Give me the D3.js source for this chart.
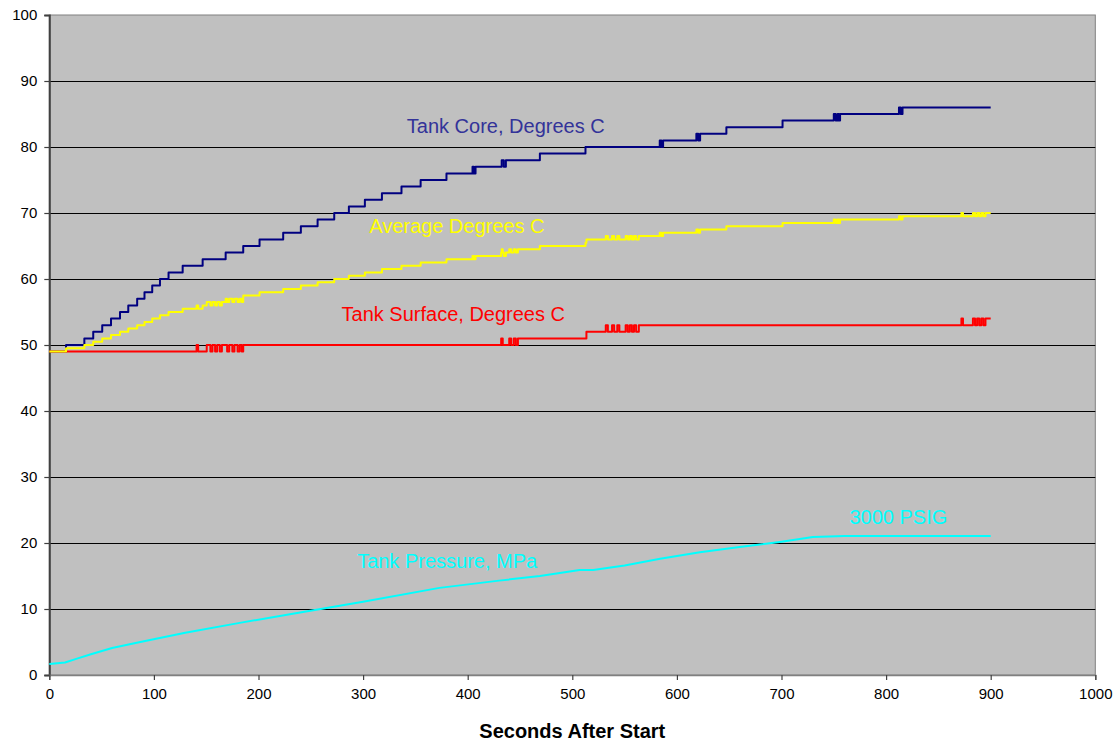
<!DOCTYPE html>
<html>
<head>
<meta charset="utf-8">
<script src="https://cdn.jsdelivr.net/npm/d3@7/dist/d3.min.js"></script>
<style>
  html, body { margin: 0; padding: 0; background: #ffffff; }
  svg { display: block; font-family: "Liberation Sans", Arial, sans-serif; }
</style>
</head>
<body>
<svg id="chart" width="1120" height="742"></svg>
<script>
// ---------- data ----------
const xTickValues = [0, 100, 200, 300, 400, 500, 600, 700, 800, 900, 1000];
const yTickValues = [0, 10, 20, 30, 40, 50, 60, 70, 80, 90, 100];

// Tank core temperature, step breakpoints [seconds, degrees C]
const coreSteps = [
  [0,49],[16,50],[33.5,51],[42,52],[50.6,53],[59,54],[67.6,55],[75.5,56],[84,57],[91,58],
  [98.4,59],[105.8,60],[114,61],[127.5,62],[146.6,63],[168.6,64],[185.4,65],[201,66],
  [223.6,67],[240.5,68],[256.5,69],[272.4,70],[286.4,71],[301.7,72],[318,73],[336.7,74],
  [355,75],[379.7,76],
  [404.6,77],[406,76],[407.5,77],
  [432.5,78],[434.5,77],[436.5,78],
  [469,79],[512.6,80],
  [583.6,81],[585.2,80],[586.8,81],
  [618.6,82],[620.4,81],[622.2,82],
  [647.3,83],[701,84],
  [750,85],[751.8,84],[753.6,85],[755,84],[756,85],
  [812.3,86],[814,85],[815.7,86],
  [900,86]
];

// Tank surface temperature, step breakpoints [seconds, degrees C]
const surfaceSteps = [
  [0,49],[140.8,50],[142.3,49],
  [150.5,50],[154,49],[156,50],[158.5,49],[160.5,50],[163,49],[165,50],[170,49],
  [172,50],[175,49],[177,50],[180,49],[182,50],[184,49],[185.4,50],
  [432,51],[433.5,50],
  [439.7,51],[441.5,50],[444,51],[446,50],[448,51],
  [513.5,52],
  [532,53],[534,52],[538,53],[540,52],[543,53],[545,52],[551,53],[553,52],
  [555,53],[557,52],[559,53],[561,52],[563.6,53],
  [872,54],[873.5,53],
  [883,54],[885,53],[887,54],[889,53],[891,54],[893,53],[895,54],
  [900,54]
];

// Average temperature, step breakpoints [seconds, degrees C]
const averageSteps = [
  [0,49],[16,49.5],[33.5,50],[42,50.5],[50.6,51],[59,51.5],[67.6,52],[75.5,52.5],[84,53],
  [91,53.5],[98.4,54],[105.8,54.5],[114,55],[127.5,55.5],[140.8,56],[142.3,55.5],[146.6,56],
  [150.5,56.5],[154,56],[156,56.5],[158.5,56],[160.5,56.5],[163,56],[165,56.5],[168.6,57],
  [170,56.5],[172,57],[175,56.5],[177,57],[180,56.5],[182,57],[184,56.5],[185.4,57.5],
  [201,58],[223.6,58.5],[240.5,59],[256.5,59.5],[272.4,60],[286.4,60.5],[301.7,61],
  [318,61.5],[336.7,62],[355,62.5],[379.7,63],
  [404.6,63.5],[406,63],[407.5,63.5],
  [432,64],[432.5,64.5],[433.5,64],[434.5,63.5],[436.5,64],
  [439.7,64.5],[441.5,64],[444,64.5],[446,64],[448,64.5],
  [469,65],[512.6,65.5],[513.5,66],
  [532,66.5],[534,66],[538,66.5],[540,66],[543,66.5],[545,66],[551,66.5],[553,66],
  [555,66.5],[557,66],[559,66.5],[561,66],[563.6,66.5],
  [583.6,67],[585.2,66.5],[586.8,67],
  [618.6,67.5],[620.4,67],[622.2,67.5],
  [647.3,68],[701,68.5],
  [750,69],[751.8,68.5],[753.6,69],[755,68.5],[756,69],
  [812.3,69.5],[814,69],[815.7,69.5],
  [872,70],[873.5,69.5],
  [883,70],[885,69.5],[887,70],[889,69.5],[891,70],[893,69.5],[895,70],
  [900,70]
];

// Tank pressure, MPa [seconds, MPa]
const pressurePoints = [
  [0,1.67],[15,1.9],[25,2.4],[39,3.1],[60,4.1],[87,5.0],[130,6.4],[182,7.9],[230,9.2],
  [258,9.95],[300,11.1],[373,13.2],[430,14.3],[469,15.0],[507,15.9],[520,15.9],
  [550,16.6],[584,17.6],[622,18.6],[660,19.4],[700,20.2],[730,20.9],[760,21.05],[900,21.05]
];

// annotation labels [text, seconds, value, colour]
const labelTexts  = ["Tank Core, Degrees C", "Average Degrees C", "Tank Surface, Degrees C", "Tank Pressure, MPa", "3000 PSIG"];
const labelTimes  = [341.8, 305.8, 279.4, 294.3, 765];
const labelValues = [82.1, 66.9, 53.7, 16.26, 22.9];
const labelColors = ["#333399", "#FFFF00", "#FF0000", "#00FFFF", "#00FFFF"];

const xTitle = "Seconds After Start";

// ---------- drawing ----------
const svg = d3.select("#chart");
const margin = { left: 49.3, right: 24.7, top: 15, bottom: 67 };
const W = 1120, H = 742;
const pw = W - margin.left - margin.right;
const ph = H - margin.top - margin.bottom;

const x = d3.scaleLinear().domain([0, 1000]).range([margin.left, margin.left + pw]);
const y = d3.scaleLinear().domain([0, 100]).range([margin.top + ph, margin.top]);

// plot area
svg.append("rect")
  .attr("x", x(0)).attr("y", y(100))
  .attr("width", x(1000) - x(0)).attr("height", y(0) - y(100))
  .attr("fill", "#C0C0C0").attr("stroke", "#808080").attr("stroke-width", 1);

// gridlines
svg.append("g").selectAll("line")
  .data(yTickValues.filter(v => v > 0 && v < 100))
  .join("line")
  .attr("x1", x(0)).attr("x2", x(1000))
  .attr("y1", d => Math.round(y(d)) + 0.5).attr("y2", d => Math.round(y(d)) + 0.5)
  .attr("stroke", "#000000").attr("stroke-width", 1);

// axes
const yAxis = d3.axisLeft(y).tickValues(yTickValues).tickSize(5).tickPadding(7).tickFormat(d3.format("d"));
const xAxis = d3.axisBottom(x).tickValues(xTickValues).tickSize(5).tickPadding(8).tickFormat(d3.format("d"));

const gy = svg.append("g").attr("transform", `translate(${x(0)},0)`).call(yAxis);
gy.select(".domain").attr("stroke", "#404040").attr("stroke-width", 2);
gy.selectAll(".tick line").attr("stroke", "#404040").attr("stroke-width", 1.2);
gy.selectAll(".tick text").attr("font-size", 15).attr("fill", "#000")
  .attr("font-family", "'Liberation Sans', Arial, sans-serif");

const gx = svg.append("g").attr("transform", `translate(0,${y(0)})`).call(xAxis);
gx.select(".domain").attr("stroke", "#808080").attr("stroke-width", 1.5);
gx.selectAll(".tick line").attr("stroke", "#404040").attr("stroke-width", 1.2);
gx.selectAll(".tick text").attr("font-size", 15).attr("fill", "#000")
  .attr("font-family", "'Liberation Sans', Arial, sans-serif");

// series
const stepLine = d3.line().x(d => x(d[0])).y(d => y(d[1])).curve(d3.curveStepAfter);
const plainLine = d3.line().x(d => x(d[0])).y(d => y(d[1])).curve(d3.curveLinear);

const series = [
  { data: coreSteps, color: "#000080", gen: stepLine },
  { data: surfaceSteps, color: "#FF0000", gen: stepLine },
  { data: averageSteps, color: "#FFFF00", gen: stepLine },
  { data: pressurePoints, color: "#00FFFF", gen: plainLine }
];
svg.append("g").selectAll("path")
  .data(series)
  .join("path")
  .attr("d", s => s.gen(s.data))
  .attr("fill", "none")
  .attr("stroke", s => s.color)
  .attr("stroke-width", 2)
  .attr("stroke-linejoin", "round");

// labels
svg.append("g").selectAll("text")
  .data(labelTexts)
  .join("text")
  .attr("x", (d, i) => x(labelTimes[i]))
  .attr("y", (d, i) => y(labelValues[i]))
  .attr("fill", (d, i) => labelColors[i])
  .attr("font-size", 20)
  .text(d => d);

// x axis title
svg.append("text")
  .attr("x", (x(0) + x(1000)) / 2)
  .attr("y", 738)
  .attr("text-anchor", "middle")
  .attr("font-size", 20)
  .attr("font-weight", "bold")
  .attr("fill", "#000")
  .text(xTitle);
</script>
</body>
</html>
